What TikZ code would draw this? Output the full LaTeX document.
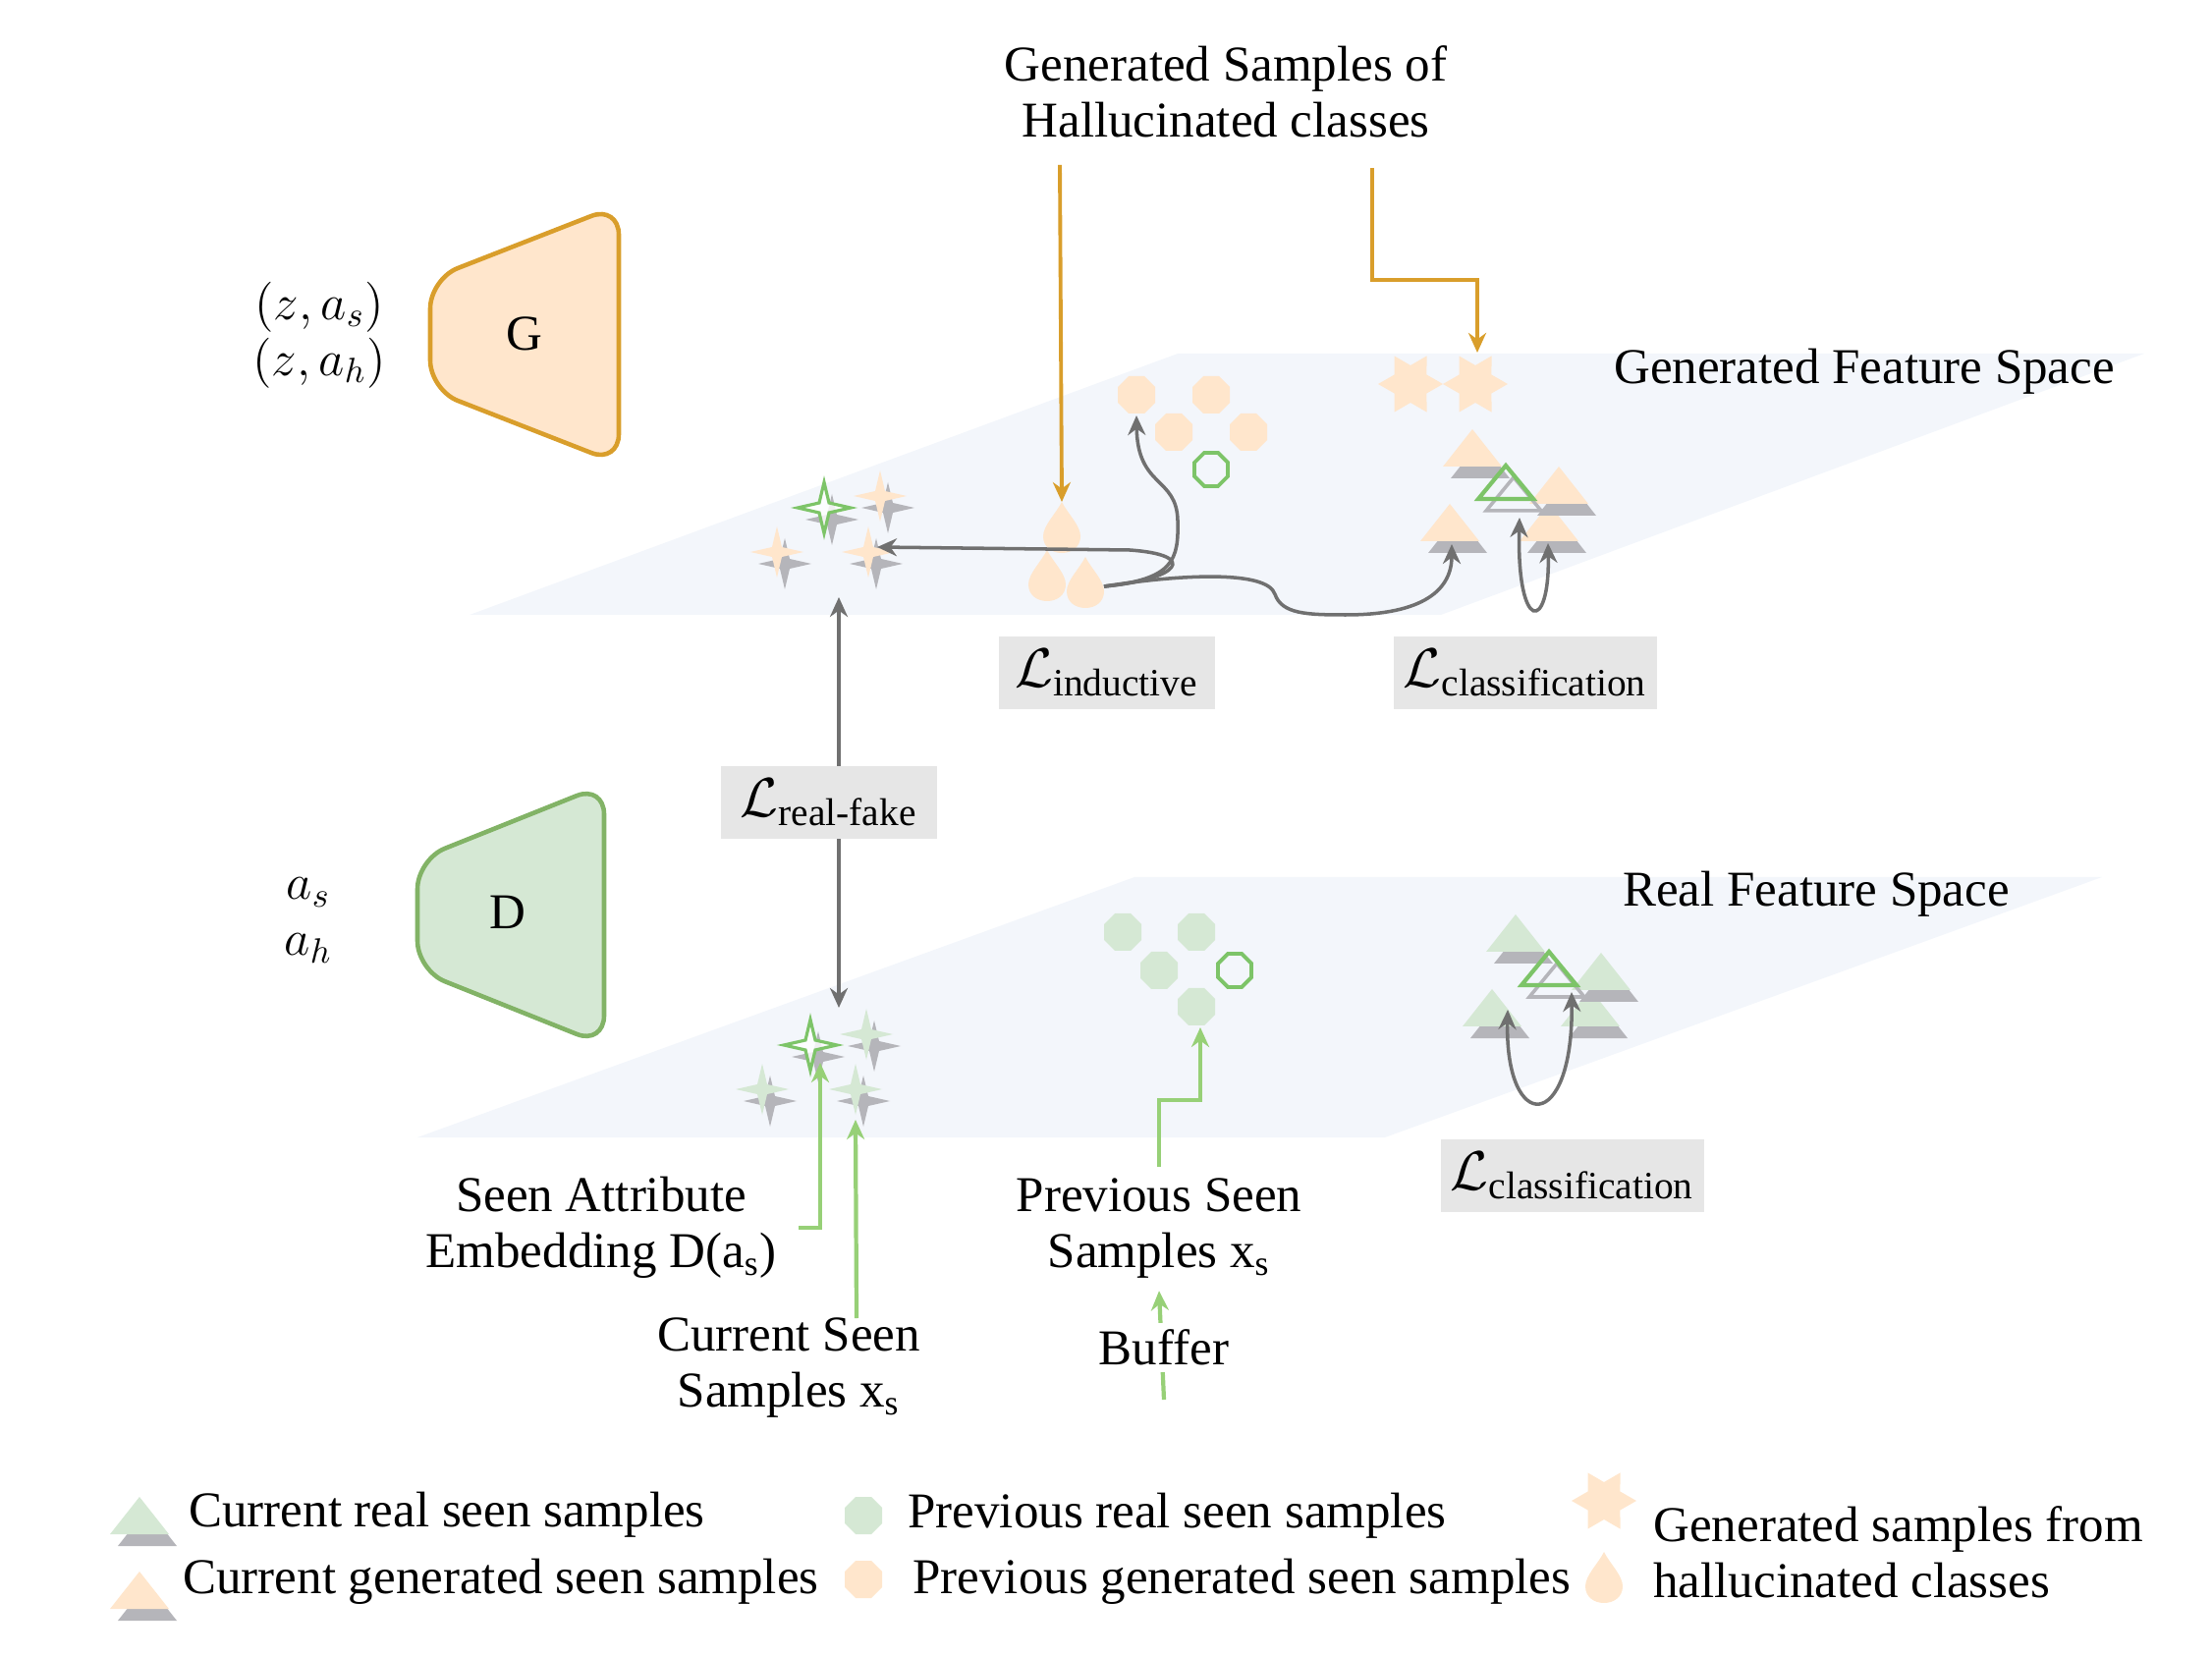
\RequirePackage{fix-cm}
\documentclass[tikz,border=0pt]{standalone}
\usepackage{amsmath}
\usepackage{fontspec}
\setmainfont{Liberation Serif}
\usepackage{xcolor}
\usepackage{tikz}
\usetikzlibrary{arrows.meta,positioning,calc}
\definecolor{peach}{HTML}{FFE6CC}
\definecolor{mint}{HTML}{D5E8D4}
\definecolor{ostroke}{HTML}{D99E2B}
\definecolor{gstroke}{HTML}{82B366}
\definecolor{garrow}{HTML}{97D077}
\definecolor{gout}{HTML}{7DC468}
\definecolor{darr}{HTML}{707070}
\definecolor{shd}{HTML}{B5B5BA}
\definecolor{plane}{HTML}{F3F6FB}
\definecolor{lossbg}{HTML}{E6E6E6}

\begin{document}
\begin{tikzpicture}[x=0.01cm,y=-0.01cm,>={Stealth[length=2mm,width=1.8mm]},font=\fontsize{14.5}{16.2}\selectfont,
  garw/.style={->,draw=darr,line width=1pt},
  oarw/.style={->,draw=ostroke,line width=1.1pt},
  grarw/.style={->,draw=garrow,line width=1.2pt},
  loss/.style={fill=lossbg,inner xsep=1mm,minimum height=7.3mm,font=\fontsize{16}{19}\selectfont},
  pics/spk/.style={code={
    \fill[shd] (8,-14) -- (13,7) -- (35,12) -- (13,17) -- (8,38) -- (3,17) -- (-19,12) -- (3,7) -- cycle;
    \fill[#1] (0,-26) -- (5,-5) -- (27,0) -- (5,5) -- (0,26) -- (-5,5) -- (-27,0) -- (-5,-5) -- cycle;}},
  pics/spko/.style={code={
    \fill[shd] (8,-14) -- (13,7) -- (35,12) -- (13,17) -- (8,38) -- (3,17) -- (-19,12) -- (3,7) -- cycle;
    \draw[gout,line width=0.9pt,fill=white,fill opacity=0.8] (0,-26) -- (5,-5) -- (27,0) -- (5,5) -- (0,26) -- (-5,5) -- (-27,0) -- (-5,-5) -- cycle;}},
  pics/tri/.style={code={
    \fill[shd] (8,-26) -- (38,12) -- (-22,12) -- cycle;
    \fill[#1] (0,-38) -- (30,0) -- (-30,0) -- cycle;}},
  pics/trio/.style={code={
    \draw[shd,line width=1pt] (8,-22) -- (36,12) -- (-20,12) -- cycle;
    \draw[gout,line width=1.2pt] (0,-34) -- (28,0) -- (-28,0) -- cycle;}},
  pics/oct/.style={code={
    \fill[#1] (-19,-8) -- (-8,-19) -- (8,-19) -- (19,-8) -- (19,8) -- (8,19) -- (-8,19) -- (-19,8) -- cycle;}},
  pics/octo/.style={code={
    \draw[gout,line width=1.1pt] (-17,-7) -- (-7,-17) -- (7,-17) -- (17,-7) -- (17,7) -- (7,17) -- (-7,17) -- (-17,7) -- cycle;}},
  pics/drop/.style={code={
    \fill[peach] (0,-28) .. controls (6,-16) and (19,-4) .. (19,7) .. controls (19,18) and (10,24) .. (0,24)
      .. controls (-10,24) and (-19,18) .. (-19,7) .. controls (-19,-4) and (-6,-16) .. (0,-28);}},
  pics/hex/.style={code={
    \fill[peach] (0:33) -- (30:19) -- (60:33) -- (90:19) -- (120:33) -- (150:19) -- (180:33) -- (210:19)
      -- (240:33) -- (270:19) -- (300:33) -- (330:19) -- cycle;}}]
  \useasboundingbox (0,0) rectangle (2252,1686);
  \fill[plane] (478,626) -- (1199,360) -- (2183,360) -- (1467,626) -- cycle;
  \fill[plane] (425,1158) -- (1155,893) -- (2140,893) -- (1410,1158) -- cycle;

  \draw[ostroke,fill=peach,line width=1.3pt,rounded corners=3mm] (630,340) -- (630,472) -- (438,397) -- (438,284) -- (630,209) -- cycle;
  \node (G) at (534,340) {G};
  \draw[gstroke,fill=mint,line width=1.3pt,rounded corners=3mm] (615,931) -- (615,1064) -- (425,988) -- (425,875) -- (615,799) -- cycle;
  \node (D) at (517,929) {D};
  \node[align=center] (zin) at (325,341) {$(z,a_s)$\\$(z,a_h)$};
  \node[align=center] (ain) at (314,937) {$a_s$\\$a_h$};

  \node (gfs) at (1898,378) {Generated Feature Space};
  \node (rfs) at (1849,910) {Real Feature Space};
  \node[align=center] (hal) at (1248,93) {Generated Samples of\\Hallucinated classes};

  \pic at (791,562) {spk=peach};
  \pic at (884,562) {spk=peach};
  \pic at (896,505) {spk=peach};
  \pic at (839,517) {spko};
  \pic at (1157,402) {oct=peach};
  \pic at (1233,402) {oct=peach};
  \pic at (1195,440) {oct=peach};
  \pic at (1271,440) {oct=peach};
  \pic at (1233,478) {octo};
  \pic at (1081,539) {drop};
  \pic at (1066,588) {drop};
  \pic at (1105,595) {drop};
  \pic at (1436,391) {hex};
  \pic at (1502,391) {hex};
  \pic at (1499,475) {tri=peach};
  \pic at (1476,551) {tri=peach};
  \pic at (1577,551) {tri=peach};
  \pic at (1587,513) {tri=peach};
  \pic at (1533,508) {trio};

  \pic at (776,1109) {spk=mint};
  \pic at (871,1109) {spk=mint};
  \pic at (882,1053) {spk=mint};
  \pic at (825,1064) {spko};
  \pic at (1143,949) {oct=mint};
  \pic at (1218,949) {oct=mint};
  \pic at (1180,988) {oct=mint};
  \pic at (1218,1025) {oct=mint};
  \pic at (1257,988) {octo};
  \pic at (1543,969) {tri=mint};
  \pic at (1519,1045) {tri=mint};
  \pic at (1619,1045) {tri=mint};
  \pic at (1630,1008) {tri=mint};
  \pic at (1577,1003) {trio};

  \coordinate (dsrc) at (1124,597);
  \coordinate (stgt) at (893,557);
  \coordinate (otgt) at (1157,423);
  \coordinate (ttgt) at (1478,554);
  \draw[garw] (dsrc) .. controls (1200,590) and (1222,565) .. (1150,560) -- (stgt);
  \draw[garw] (dsrc) .. controls (1195,590) and (1200,570) .. (1199,530) .. controls (1198,485) and (1158,497) .. (otgt);
  \draw[garw] (dsrc) .. controls (1200,585) and (1290,580) .. (1298,605) .. controls (1305,625) and (1330,626) .. (1370,626)
    .. controls (1450,626) and (1478,600) .. (ttgt);
  \coordinate (ua) at (1547,527);
  \coordinate (ub) at (1576,553);
  \draw[garw,<->] (ua) .. controls (1544,645) and (1578,645) .. (ub);
  \coordinate (la) at (1535,1028);
  \coordinate (lb) at (1600,1010);
  \draw[garw,<->] (la) .. controls (1532,1155) and (1602,1155) .. (lb);

  \coordinate (rfa) at (854,608);
  \coordinate (rfb) at (854,1026);
  \draw[garw,<->] (rfa) -- (rfb);
  \node[loss,minimum width=22mm] (lrf) at (844,817) {$\mathcal{L}_{\text{real-fake}}$};
  \node[loss,minimum width=22mm] (lind) at (1127,685) {$\mathcal{L}_{\text{inductive}}$};
  \node[loss] (lcls) at (1553,685) {$\mathcal{L}_{\text{classification}}$};
  \node[loss] (lcls2) at (1601,1197) {$\mathcal{L}_{\text{classification}}$};

  \coordinate (oa) at (1079,168);
  \coordinate (oat) at (1081,511);
  \draw[oarw] (oa) -- (oat);
  \coordinate (ob) at (1397,171);
  \coordinate (obt) at (1504,359);
  \draw[oarw] (ob) |- (1504,285) -- (obt);

  \node[align=center] (sae) at (612,1250) {Seen Attribute\\Embedding D(a\textsubscript{s})};
  \node[align=center] (css) at (803,1393) {Current Seen\\Samples x\textsubscript{s}};
  \node[align=center] (pss) at (1180,1251) {Previous Seen\\Samples x\textsubscript{s}};
  \coordinate (sat) at (835,1082);
  \draw[grarw] ([xshift=1mm]sae.east) -| (sat);
  \coordinate (csa) at (872,1342);
  \coordinate (cst) at (871,1140);
  \draw[grarw] (csa) -- (cst);
  \coordinate (pst) at (1222,1046);
  \draw[grarw] (pss.north) |- (1222,1120) -- (pst);
  \coordinate (bfa) at (1185,1425);
  \draw[grarw] (bfa) -- (pss.south);
  \node[fill=white,inner sep=2pt] (buf) at (1185,1372) {Buffer};

  \pic at (142,1562) {tri=mint};
  \pic at (142,1638) {tri=peach};
  \node[anchor=west] (lg1) at (180,1542) {Current real seen samples};
  \node[anchor=west] (lg2) at (174,1610) {Current generated seen samples};
  \pic at (879,1543) {oct=mint};
  \pic at (879,1608) {oct=peach};
  \node[anchor=west] (lg3) at (912,1543) {Previous real seen samples};
  \node[anchor=west] (lg4) at (917,1610) {Previous generated seen samples};
  \pic at (1633,1528) {hex};
  \pic at (1633,1608) {drop};
  \node[anchor=west,align=left] (lg5) at (1671,1580) {Generated samples from\\hallucinated classes};
\end{tikzpicture}
\end{document}
